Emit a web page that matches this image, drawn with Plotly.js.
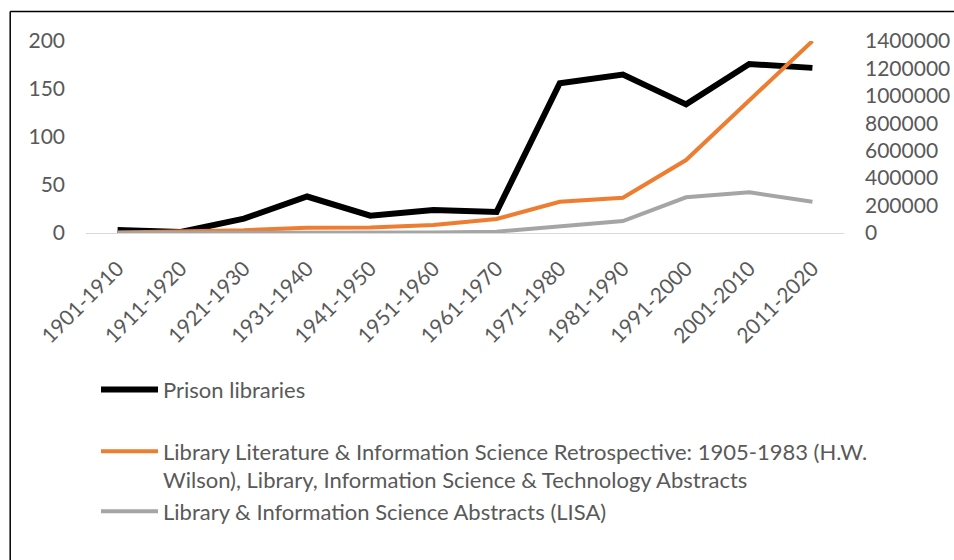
<!DOCTYPE html>
<html>
<head>
<meta charset="utf-8">
<script src="https://cdn.plot.ly/plotly-3.0.1.min.js"></script>
<style>
  html, body { margin: 0; padding: 0; background: #fff; }
  #chart { width: 954px; height: 560px; }
</style>
</head>
<body>
<div id="chart"></div>
<script>
const categories = ['1901-1910','1911-1920','1921-1930','1931-1940','1941-1950','1951-1960','1961-1970','1971-1980','1981-1990','1991-2000','2001-2010','2011-2020'];
const prisonLibraries = [3, 1, 15, 38, 18, 24, 22, 156, 165, 134, 176, 172];
const lltaValues = [3000, 8000, 20000, 39000, 41000, 58000, 102000, 228000, 257000, 532000, 970000, 1400000];
const lisaValues = [1000, 1000, 2000, 3000, 3000, 4000, 10000, 46000, 87000, 260000, 297000, 228000];
const seriesNames = [
  'Prison libraries',
  'Library Literature & Information Science Retrospective: 1905-1983 (H.W.<br>Wilson), Library, Information Science & Technology Abstracts',
  'Library & Information Science Abstracts (LISA)'
];
const leftTicks = [0, 50, 100, 150, 200];
const rightTicks = [0, 200000, 400000, 600000, 800000, 1000000, 1200000, 1400000];

const FONT = 'Lato, "Open Sans", sans-serif';
const TXT = '#595959';

const traces = [
  {x: categories, y: prisonLibraries, name: seriesNames[0], type: 'scatter', mode: 'lines',
   line: {color: '#000000', width: 6}, yaxis: 'y', legendgroup: 'a'},
  {x: categories, y: lltaValues, name: seriesNames[1], type: 'scatter', mode: 'lines',
   line: {color: '#ED7D31', width: 4}, yaxis: 'y2', legendgroup: 'b'},
  {x: categories, y: lisaValues, name: seriesNames[2], type: 'scatter', mode: 'lines',
   line: {color: '#A5A5A5', width: 4}, yaxis: 'y2', legendgroup: 'b'}
];

const layout = {
  width: 954, height: 560,
  margin: {l: 86, r: 110, t: 41, b: 327, pad: 0},
  paper_bgcolor: '#ffffff', plot_bgcolor: '#ffffff',
  font: {family: FONT, size: 21, color: TXT},
  showlegend: true,
  xaxis: {
    type: 'category', range: [-0.5, 11.5], tickangle: -45,
    showline: true, linecolor: '#D9D9D9', linewidth: 1,
    showgrid: false, zeroline: false, ticks: '',
    ticklabelstandoff: 14,
    tickfont: {family: FONT, size: 21, color: TXT}
  },
  yaxis: {
    range: [0, 200], tickvals: leftTicks, showgrid: false, zeroline: false, showline: false,
    ticks: '', ticklabelstandoff: 20,
    tickfont: {family: FONT, size: 21, color: TXT}
  },
  yaxis2: {
    overlaying: 'y', side: 'right', range: [0, 1400000], tickvals: rightTicks, tickformat: 'd',
    showgrid: false, zeroline: false, showline: false, ticks: '', ticklabelstandoff: 20,
    tickfont: {family: FONT, size: 21, color: TXT}
  },
  legend: {
    orientation: 'v', x: 0.0132, xanchor: 'left', y: -0.707, yanchor: 'top',
    traceorder: 'grouped', tracegroupgap: 30, valign: 'top', itemwidth: 57,
    font: {family: FONT, size: 22, color: TXT}, bgcolor: 'rgba(0,0,0,0)', borderwidth: 0
  },
  shapes: [
    {type: 'line', xref: 'paper', yref: 'paper', x0: -0.1, x1: -0.1, y0: 1.1536, y1: -1.9,
     line: {color: '#000000', width: 1.5}},
    {type: 'line', xref: 'paper', yref: 'paper', x0: -0.1, x1: 1.25, y0: 1.1536, y1: 1.1536,
     line: {color: '#000000', width: 1.5}}
  ]
};

Plotly.newPlot('chart', traces, layout, {displayModeBar: false, staticPlot: true});
</script>
</body>
</html>
